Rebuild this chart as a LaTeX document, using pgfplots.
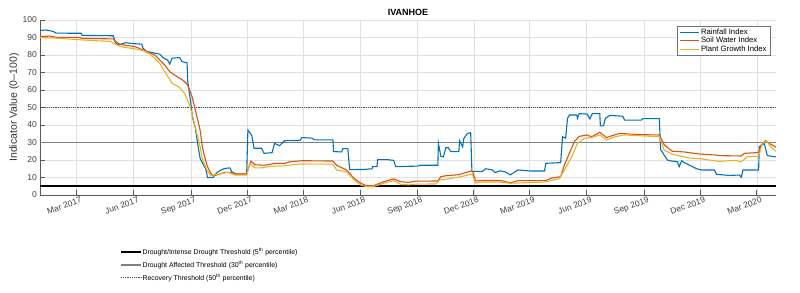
\documentclass[border=0pt]{standalone}
\usepackage{pgfplots}
\pgfplotsset{compat=1.18}
\usepackage{fontspec}
\setmainfont{Liberation Sans}
\definecolor{mblue}{RGB}{0,114,189}
\definecolor{morange}{RGB}{217,83,25}
\definecolor{myellow}{RGB}{237,177,32}
\definecolor{axgray}{RGB}{90,90,90}
\begin{document}
\begin{tikzpicture}[x=1pt,y=1pt]
\useasboundingbox (0,0) rectangle (800,292);
% base axis: grid, ticks, thresholds
\begin{axis}[
  at={(40pt,97pt)}, anchor=south west,
  width=736pt, height=175pt, scale only axis,
  xmin=0, xmax=1186, ymin=0, ymax=100,
  axis x line*=bottom, axis y line*=left,
  axis line style={axgray, line width=0.6pt},
  tick align=inside, major tick length=5pt,
  tick style={axgray, line width=0.6pt},
  xtick={59,151,243,334,424,516,608,699,789,881,973,1064,1155},
  xticklabels={Mar 2017,Jun 2017,Sep 2017,Dec 2017,Mar 2018,Jun 2018,Sep 2018,Dec 2018,Mar 2019,Jun 2019,Sep 2019,Dec 2019,Mar 2020},
  ytick={0,10,...,100},
  grid=major, grid style={black!12, line width=0.5pt},
  ticklabel style={font=\fontsize{8.5}{9.5}\selectfont, text=black!75},
  x tick label style={rotate=20, anchor=north east, inner sep=1pt, xshift=4pt, yshift=-1.5pt},
  y tick label style={inner sep=1pt, xshift=-2pt},
  /pgf/number format/assume math mode=true,
  ylabel={Indicator Value (0--100)},
  ylabel style={font=\fontsize{10.5}{12}\selectfont, text=black!80, at={(ticklabel cs:0.5)}, yshift=-1pt},
  title={\textbf{IVANHOE}},
  title style={font=\fontsize{9}{10}\selectfont, yshift=-5pt},
  clip=false,
  legend style={draw=none, fill=none, at={(0.108,-0.30)}, anchor=north west,
    font=\fontsize{6.9}{8}\selectfont, row sep=3.6pt, inner sep=0pt,
    nodes={inner sep=0.6pt}},
  legend cell align=left,
  legend image code/.code={\draw[#1] (0pt,0pt) -- (20pt,0pt);},
]
\addplot[black, line width=2.3pt] coordinates {(0,5) (1186,5)};
\addlegendentry{Drought/Intense Drought Threshold (5\textsuperscript{th} percentile)}
\addplot[black!50, line width=1.6pt] coordinates {(0,30) (1186,30)};
\addlegendentry{Drought Affected Threshold (30\textsuperscript{th} percentile)}
\addplot[black!70, line width=0.9pt, dash pattern=on 1.1pt off 1.1pt] coordinates {(0,50) (1186,50)};
\addlegendentry{Recovery Threshold (50\textsuperscript{th} percentile)}
\end{axis}
% data axis
\begin{axis}[
  at={(40pt,97pt)}, anchor=south west,
  width=736pt, height=175pt, scale only axis,
  xmin=0, xmax=1186, ymin=0, ymax=100,
  hide axis,
  legend style={draw=black!55, line width=0.6pt, fill=white, at={(0.992,0.966)}, anchor=north east,
    font=\fontsize{7.7}{8.5}\selectfont, row sep=-1.4pt, inner xsep=2pt, inner ysep=1.5pt,
    nodes={inner sep=1.3pt}},
  legend cell align=left,
  legend image code/.code={\draw[#1] (0pt,0pt) -- (19pt,0pt);},
]
\addplot[mblue, line width=1.1pt] coordinates {
(0,94.0) (10,94.3) (18,93.7) (21,93.5) (26,92.5) (66,92.4) (68,91.2) (118,91.0)
(121,87.8) (124,86.0) (130,86.2) (138,87.0) (150,86.5) (164,86.2) (166,83.8)
(172,82.0) (193,80.5) (198,78.5) (206,77) (209,74.8) (213,78.2) (225,78.5)
(229,76.2) (237,75.5) (238,65) (242,55.2) (246,43.8) (250,39) (254,29.5)
(258,21) (262,18.1) (267,15) (270,10) (279,10) (282,11.7) (287,13.3)
(293,14.5) (298,15.2) (306,15.5) (309,13.3) (317,11.8) (333,12) (335,37)
(341,34.3) (345,26.7) (357,26.7) (361,23.8) (374,24.2) (378,29.5) (386,28.2)
(394,31) (419,31.2) (422,32.8) (438,32.5) (443,31.5) (472,31.5) (473,24.8)
(486,24.6) (488,26.5) (496,26.5) (499,14.5) (522,14.6) (535,15) (536,16.2)
(543,16.3) (544,20.2) (560,20.2) (570,19.8) (573,16.2) (594,16.4) (609,16.5)
(612,17) (641,17) (642,29.5) (646,22) (650,21.8) (654,27) (658,27) (662,24.8)
(675,24.8) (676,31) (681,27.5) (683,32.4) (689,35.2) (694,35.6) (696,13.5)
(713,13.5) (718,15) (729,14.3) (733,12.8) (741,13.8) (749,13.3) (758,11.5)
(770,14.3) (791,13.7) (813,13.7) (815,18.1) (839,18.5) (842,33.3) (847,32.4)
(850,43.8) (853,45.7) (865,45.7) (866,43.8) (869,46.5) (882,46.2) (886,43.5)
(890,46.5) (902,46.5) (903,39.5) (908,39.5) (911,43.8) (918,45.5) (939,45)
(942,42.8) (969,42.8) (971,43.6) (998,43.6) (1000,26) (1011,20) (1014,19.6)
(1027,19) (1030,16.2) (1034,19.5) (1038,18.5) (1050,16.5) (1058,15)
(1066,14.3) (1087,14.3) (1090,11.8) (1111,11.2) (1127,11.4) (1130,10.2)
(1133,14.3) (1158,14.3) (1159,27.6) (1167,29.5) (1172,22.5) (1186,21.8)
};
\addlegendentry{Rainfall Index}
\addplot[morange, line width=1.1pt] coordinates {
(0,90.5) (16,90.8) (27,90.1) (64,90) (68,89.5) (118,89.2) (121,88) (129,86)
(153,84.8) (169,82.5) (185,80) (201,74.3) (209,70.5) (221,67.6) (230,65.7)
(238,62.9) (245,56.2) (251,47.6) (258,37.1) (262,26.7) (269,17) (275,12.4)
(280,11) (290,12) (298,12.9) (309,12.9) (314,12) (333,12) (340,19.4)
(346,17.3) (357,17.1) (362,17) (378,18) (394,18.1) (403,19) (423,19.6)
(472,19.4) (478,17) (494,14.3) (506,9.5) (517,6.7) (526,5.3) (538,5.4)
(554,7.6) (570,9.2) (581,7.6) (594,7.2) (605,7.9) (641,8) (646,10.5)
(654,11) (675,11.6) (694,13.7) (697,13.5) (702,8) (713,8.3) (742,8.3)
(758,6.9) (770,8.2) (815,8.2) (823,9.5) (839,10.5) (845,17.1) (853,23.8)
(861,30.5) (869,33.5) (881,34.3) (889,33.3) (902,35.8) (913,32.8) (921,33.8)
(934,35.2) (966,34.5) (998,34.3) (1006,28.6) (1019,25) (1038,24.6)
(1063,23.4) (1087,22.9) (1095,22.5) (1130,22.3) (1135,23.8) (1158,24.3)
(1162,28.6) (1169,31) (1175,29.5) (1186,27.3)
};
\addlegendentry{Soil Water Index}
\addplot[myellow, line width=1.1pt] coordinates {
(0,90) (32,89.5) (81,88.3) (113,87.8) (129,84.8) (153,83.5) (166,82.5)
(177,80.6) (193,75.2) (201,70.5) (213,63.8) (225,61.5) (233,58.1) (242,50.5)
(250,39) (258,27.6) (262,20) (269,14.3) (275,11.2) (290,12) (303,13)
(314,11.4) (333,11.4) (338,18.1) (346,15.5) (357,15.5) (370,16.3) (394,16.7)
(419,17.7) (472,17.6) (478,14.3) (494,13.3) (506,8.6) (517,5.7) (526,4.8)
(538,4.9) (554,6.7) (570,8.2) (581,6.1) (594,5.8) (605,6.2) (638,6.3)
(644,8.6) (654,9) (676,10.3) (694,11.8) (697,11.5) (702,6.8) (713,7.4)
(742,7.4) (757,6.7) (813,7.4) (837,9.4) (845,14.3) (857,21.9) (866,29.5)
(877,32.4) (889,32.9) (902,34.3) (913,31.4) (926,33.3) (942,34.3) (998,33.3)
(1006,25.5) (1022,23) (1047,21.1) (1063,20.8) (1087,19.5) (1095,19.2)
(1119,19.8) (1130,19) (1140,21.9) (1158,22) (1164,29.5) (1171,30.9)
(1179,27) (1186,25)
};
\addlegendentry{Plant Growth Index}
\end{axis}
\end{tikzpicture}
\end{document}
